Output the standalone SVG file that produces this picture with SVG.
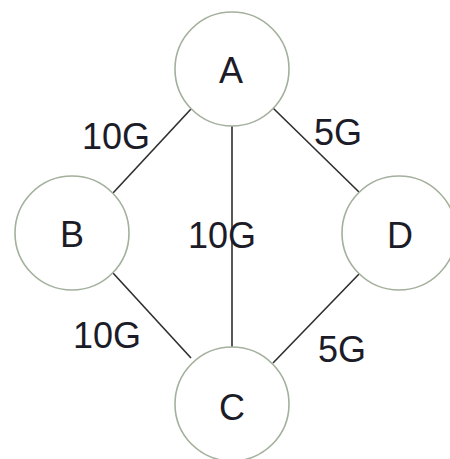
<svg xmlns="http://www.w3.org/2000/svg" width="450" height="459" viewBox="0 0 450 459">
  <style>
    .node circle { fill: #ffffff; stroke: #a3b09c; stroke-width: 1.6; }
    .node text, .label { font-family: "Liberation Sans", Arial, sans-serif; font-size: 36px; fill: #1c1c28; text-anchor: middle; }
    .link { stroke: #2e2e2e; stroke-width: 1.6; fill: none; }
  </style>
  <rect width="450" height="459" fill="#ffffff"/>
  <g id="connectors">
    <line class="link" x1="191" y1="109" x2="113" y2="193"/>
    <line class="link" x1="232" y1="126" x2="232" y2="347"/>
    <line class="link" x1="273" y1="108" x2="360" y2="193"/>
    <line class="link" x1="113" y1="273" x2="191" y2="358"/>
    <line class="link" x1="360" y1="273" x2="273" y2="363"/>
  </g>
  <g id="labels">
    <text class="label" x="116" y="149">10G</text>
    <text class="label" x="222" y="248">10G</text>
    <text class="label" x="338" y="145">5G</text>
    <text class="label" x="107" y="348">10G</text>
    <text class="label" x="342" y="362">5G</text>
  </g>
  <g id="node-A" class="node">
    <circle cx="232" cy="69" r="57"/>
    <text x="231" y="83">A</text>
  </g>
  <g id="node-B" class="node">
    <circle cx="72" cy="233" r="57"/>
    <text x="72" y="247">B</text>
  </g>
  <g id="node-D" class="node">
    <circle cx="399" cy="233" r="57"/>
    <text x="400" y="248">D</text>
  </g>
  <g id="node-C" class="node">
    <circle cx="232" cy="404" r="57"/>
    <text x="232" y="420">C</text>
  </g>
</svg>
